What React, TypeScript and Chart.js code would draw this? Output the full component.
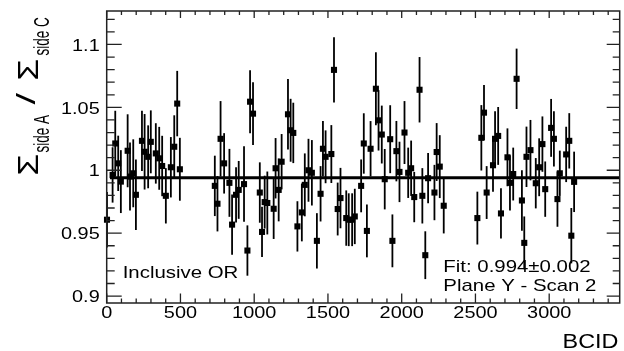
import React, { useEffect, useRef } from 'react';
import { Chart, registerables } from 'chart.js';

Chart.register(...registerables);

// ---- data ----
const BCID = [
  2, 40, 58, 78, 96, 142, 158, 180, 198, 239, 257, 281, 299, 333, 356, 376, 401, 435, 458, 478, 496,
  733, 751, 772, 796, 832, 850, 877, 895, 931, 954, 972, 992, 1038, 1053, 1071, 1089, 1132, 1145, 1166, 1186, 1229, 1247, 1265, 1293, 1323, 1343, 1368, 1391,
  1425, 1450, 1466, 1484, 1523, 1541, 1566, 1585, 1624, 1641, 1664, 1682, 1725, 1743, 1764, 1789, 1825, 1843, 1865, 1885, 1922, 1937, 1964, 1985, 2019, 2044, 2064, 2085, 2121, 2140, 2160, 2179, 2222, 2237, 2258, 2285,
  2513, 2540, 2558, 2576, 2619, 2633, 2654, 2673, 2717, 2734, 2756, 2779, 2815, 2831, 2846, 2873, 2909, 2932, 2954, 2973, 3013, 3032, 3056, 3072, 3115, 3136, 3150, 3169,
];

const RATIO = [
  0.9607, 0.9963, 1.0213, 1.0055, 0.991, 1.0155, 0.995, 0.9976, 0.9805, 1.0234, 1.0147, 1.0107, 1.0226, 1.0134, 1.0095, 1.0034, 0.9797, 1.0024, 1.0187, 1.053, 1.0008,
  0.9876, 0.9734, 1.025, 1.0055, 0.99, 0.9568, 0.9805, 0.9844, 0.989, 0.9362, 1.0545, 1.045, 0.9823, 0.951, 0.9747, 0.974, 0.9694, 1.0016, 0.9844, 1.0068, 1.0445, 1.0318, 1.0297, 0.9554, 0.9665, 0.9884, 1.0, 0.998,
  0.9439, 0.9813, 1.0171, 1.0107, 1.0129, 1.0798, 0.9692, 0.9779, 0.962, 0.9607, 0.9607, 0.9633, 0.9876, 1.0213, 0.9518, 1.0171, 1.0648, 1.0397, 1.0284, 0.9929, 1.0247, 0.9439, 1.0152, 0.9987, 1.03, 0.998, 1.0016, 0.9787, 1.064, 0.9797, 0.9325, 0.9937, 0.9823, 1.0145, 1.0029, 0.9718,
  0.962, 1.0258, 1.0458, 0.9823, 1.004, 1.025, 1.0273, 0.9657, 1.0103, 0.99, 0.997, 1.0727, 0.976, 0.9423, 1.0107, 1.016, 0.9897, 1.0024, 1.0208, 0.985, 1.0337, 1.025, 0.9771, 0.9976, 1.0126, 1.0234, 0.948, 0.9908,
];

const ERR = [
  0.022, 0.022, 0.026, 0.022, 0.025, 0.029, 0.027, 0.027, 0.028, 0.024, 0.03, 0.025, 0.025, 0.024, 0.025, 0.024, 0.022, 0.024, 0.025, 0.026, 0.025,
  0.024, 0.022, 0.03, 0.024, 0.027, 0.024, 0.022, 0.023, 0.03, 0.02, 0.025, 0.025, 0.024, 0.02, 0.021, 0.025, 0.024, 0.024, 0.025, 0.022, 0.028, 0.025, 0.024, 0.02, 0.023, 0.025, 0.025, 0.026,
  0.022, 0.022, 0.022, 0.021, 0.023, 0.026, 0.021, 0.024, 0.022, 0.021, 0.021, 0.022, 0.021, 0.024, 0.021, 0.022, 0.029, 0.024, 0.023, 0.024, 0.027, 0.021, 0.024, 0.024, 0.025, 0.02, 0.022, 0.02, 0.026, 0.022, 0.019, 0.02, 0.022, 0.023, 0.025, 0.022,
  0.021, 0.026, 0.022, 0.021, 0.021, 0.022, 0.023, 0.02, 0.023, 0.022, 0.021, 0.024, 0.024, 0.021, 0.024, 0.024, 0.02, 0.023, 0.022, 0.022, 0.023, 0.022, 0.022, 0.018, 0.022, 0.022, 0.022, 0.024,
];

const FIT_VALUE = 0.994;
const FIT_FROM = 22;
const X_MIN = 0;
const X_MAX = 3478;
const Y_MIN = 0.8945;
const Y_MAX = 1.1266;
const X_TICKS = [0, 500, 1000, 1500, 2000, 2500, 3000];
const X_TICK_LABELS = ['0', '500', '1000', '1500', '2000', '2500', '3000'];
const Y_TICKS = [0.9, 0.95, 1, 1.05, 1.1];
const Y_TICK_LABELS = ['0.9', '0.95', '1', '1.05', '1.1'];
const X_MINOR_STEP = 100;
const Y_MINOR_STEP = 0.01;
const X_TITLE = 'BCID';
const Y_TITLE_PARTS = ['Σ', 'side A', '/', 'Σ', 'side C'];
const NOTE_LEFT = 'Inclusive OR';
const NOTE_FIT = 'Fit: 0.994±0.002';
const NOTE_SCAN = 'Plane Y - Scan 2';

const FONT = '"Liberation Sans", Arial, Helvetica, sans-serif';

function stretchedText(
  ctx: CanvasRenderingContext2D,
  text: string,
  x: number,
  y: number,
  size: number,
  sx: number,
  align: 'left' | 'center' | 'right'
) {
  ctx.save();
  ctx.font = `${size}px ${FONT}`;
  const w = ctx.measureText(text).width * sx;
  let x0 = x;
  if (align === 'center') x0 = x - w / 2;
  else if (align === 'right') x0 = x - w;
  ctx.translate(x0, y);
  ctx.scale(sx, 1);
  ctx.textAlign = 'left';
  ctx.textBaseline = 'alphabetic';
  ctx.fillStyle = '#000';
  ctx.fillText(text, 0, 0);
  ctx.restore();
}

function rotatedText(
  ctx: CanvasRenderingContext2D,
  text: string,
  baseX: number,
  startY: number,
  size: number,
  sAlong: number,
  sAcross: number
) {
  ctx.save();
  ctx.font = `${size}px ${FONT}`;
  ctx.translate(baseX, startY);
  ctx.rotate(-Math.PI / 2);
  ctx.scale(sAlong, sAcross);
  ctx.textAlign = 'left';
  ctx.textBaseline = 'alphabetic';
  ctx.fillStyle = '#000';
  ctx.fillText(text, 0, 0);
  ctx.restore();
}

const rootStyle = {
  id: 'rootStyle',
  afterDatasetsDraw(chart: any) {
    const ctx: CanvasRenderingContext2D = chart.ctx;
    const xs = chart.scales.x;
    const ys = chart.scales.y;
    ctx.save();
    ctx.strokeStyle = '#000';
    ctx.lineWidth = 1.8;
    BCID.forEach((b, i) => {
      const px = xs.getPixelForValue(b);
      const y1 = ys.getPixelForValue(RATIO[i] - ERR[i]);
      const y2 = ys.getPixelForValue(RATIO[i] + ERR[i]);
      ctx.beginPath();
      ctx.moveTo(px, y1);
      ctx.lineTo(px, y2);
      ctx.stroke();
    });
    ctx.restore();
  },
  afterDraw(chart: any) {
    const ctx: CanvasRenderingContext2D = chart.ctx;
    const xs = chart.scales.x;
    const ys = chart.scales.y;
    const { left, right, top, bottom } = chart.chartArea;
    ctx.save();
    // frame
    ctx.strokeStyle = '#222';
    ctx.lineWidth = 1.5;
    ctx.strokeRect(left, top, right - left, bottom - top);

    // x ticks
    ctx.lineWidth = 1.3;
    ctx.beginPath();
    const nX = Math.floor((X_MAX - X_MIN) / X_MINOR_STEP);
    for (let k = 0; k <= nX; k++) {
      const v = X_MIN + k * X_MINOR_STEP;
      const px = xs.getPixelForValue(v);
      const major = X_TICKS.includes(v);
      ctx.moveTo(px, bottom);
      ctx.lineTo(px, bottom - (major ? 9.5 : 4.5));
      ctx.moveTo(px, top);
      ctx.lineTo(px, top + (major ? 7 : 4));
    }
    // y ticks
    const yStart = Math.ceil(Y_MIN / Y_MINOR_STEP - 1e-9);
    const yEnd = Math.floor(Y_MAX / Y_MINOR_STEP + 1e-9);
    for (let k = yStart; k <= yEnd; k++) {
      const v = k * Y_MINOR_STEP;
      const py = ys.getPixelForValue(v);
      const major = Y_TICKS.some((t) => Math.abs(t - v) < 1e-6);
      ctx.moveTo(left, py);
      ctx.lineTo(left + (major ? 15 : 8), py);
      ctx.moveTo(right, py);
      ctx.lineTo(right - (major ? 13 : 7), py);
    }
    ctx.stroke();
    ctx.restore();

    // tick labels
    X_TICKS.forEach((t, i) => {
      stretchedText(ctx, X_TICK_LABELS[i], xs.getPixelForValue(t), bottom + 15.3, 17, 1.17, 'center');
    });
    Y_TICKS.forEach((t, i) => {
      stretchedText(ctx, Y_TICK_LABELS[i], left - 7, ys.getPixelForValue(t) + 6.2, 17, 1.17, 'right');
    });

    // axis titles
    stretchedText(ctx, X_TITLE, right - 1.2, bottom + 44.7, 20, 1.17, 'right');
    rotatedText(ctx, Y_TITLE_PARTS[0], 38.3, 175.5, 24, 1.45, 1.2);
    rotatedText(ctx, Y_TITLE_PARTS[1], 48.5, 152.5, 13.5, 1.0, 1.6);
    rotatedText(ctx, Y_TITLE_PARTS[2], 35, 104.5, 22, 1.9, 1.2);
    rotatedText(ctx, Y_TITLE_PARTS[3], 38.3, 80.5, 24, 1.45, 1.2);
    rotatedText(ctx, Y_TITLE_PARTS[4], 48.5, 55.5, 13.5, 1.0, 1.6);

    // notes
    stretchedText(ctx, NOTE_LEFT, 122.7, 278.3, 17, 1.2, 'left');
    stretchedText(ctx, NOTE_FIT, 443.3, 271.7, 17, 1.2, 'left');
    stretchedText(ctx, NOTE_SCAN, 443.3, 290.7, 17, 1.2, 'left');
  },
};

export default function App() {
  const canvasRef = useRef<HTMLCanvasElement | null>(null);

  useEffect(() => {
    const canvas = canvasRef.current;
    if (!canvas) return;
    const chart = new Chart(canvas, {
      type: 'scatter',
      data: {
        datasets: [
          {
            label: 'ratio',
            data: BCID.map((b, i) => ({ x: b, y: RATIO[i] })),
            pointStyle: 'rect',
            pointRadius: 4.3,
            pointBackgroundColor: '#000',
            pointBorderWidth: 0,
            showLine: false,
            clip: false,
            order: 0,
          } as any,
          {
            label: 'fit',
            type: 'line',
            data: [
              { x: FIT_FROM, y: FIT_VALUE },
              { x: X_MAX, y: FIT_VALUE },
            ],
            borderColor: '#000',
            borderWidth: 3,
            pointRadius: 0,
            showLine: true,
            fill: false,
            order: 1,
          } as any,
        ],
      },
      options: {
        animation: false,
        responsive: false,
        events: [],
        layout: { padding: { left: 106.7, right: 624 - 620.5, top: 11, bottom: 351 - 303 } },
        plugins: { legend: { display: false }, tooltip: { enabled: false } },
        scales: {
          x: { type: 'linear', min: X_MIN, max: X_MAX, display: false },
          y: { type: 'linear', min: Y_MIN, max: Y_MAX, display: false },
        },
      },
      plugins: [rootStyle],
    });
    return () => chart.destroy();
  }, []);

  return (
    <div style={{ position: 'fixed', left: 0, top: 0, width: 624, height: 351, background: '#fff' }}>
      <canvas ref={canvasRef} width={624} height={351} style={{ width: 624, height: 351, display: 'block' }} />
    </div>
  );
}
